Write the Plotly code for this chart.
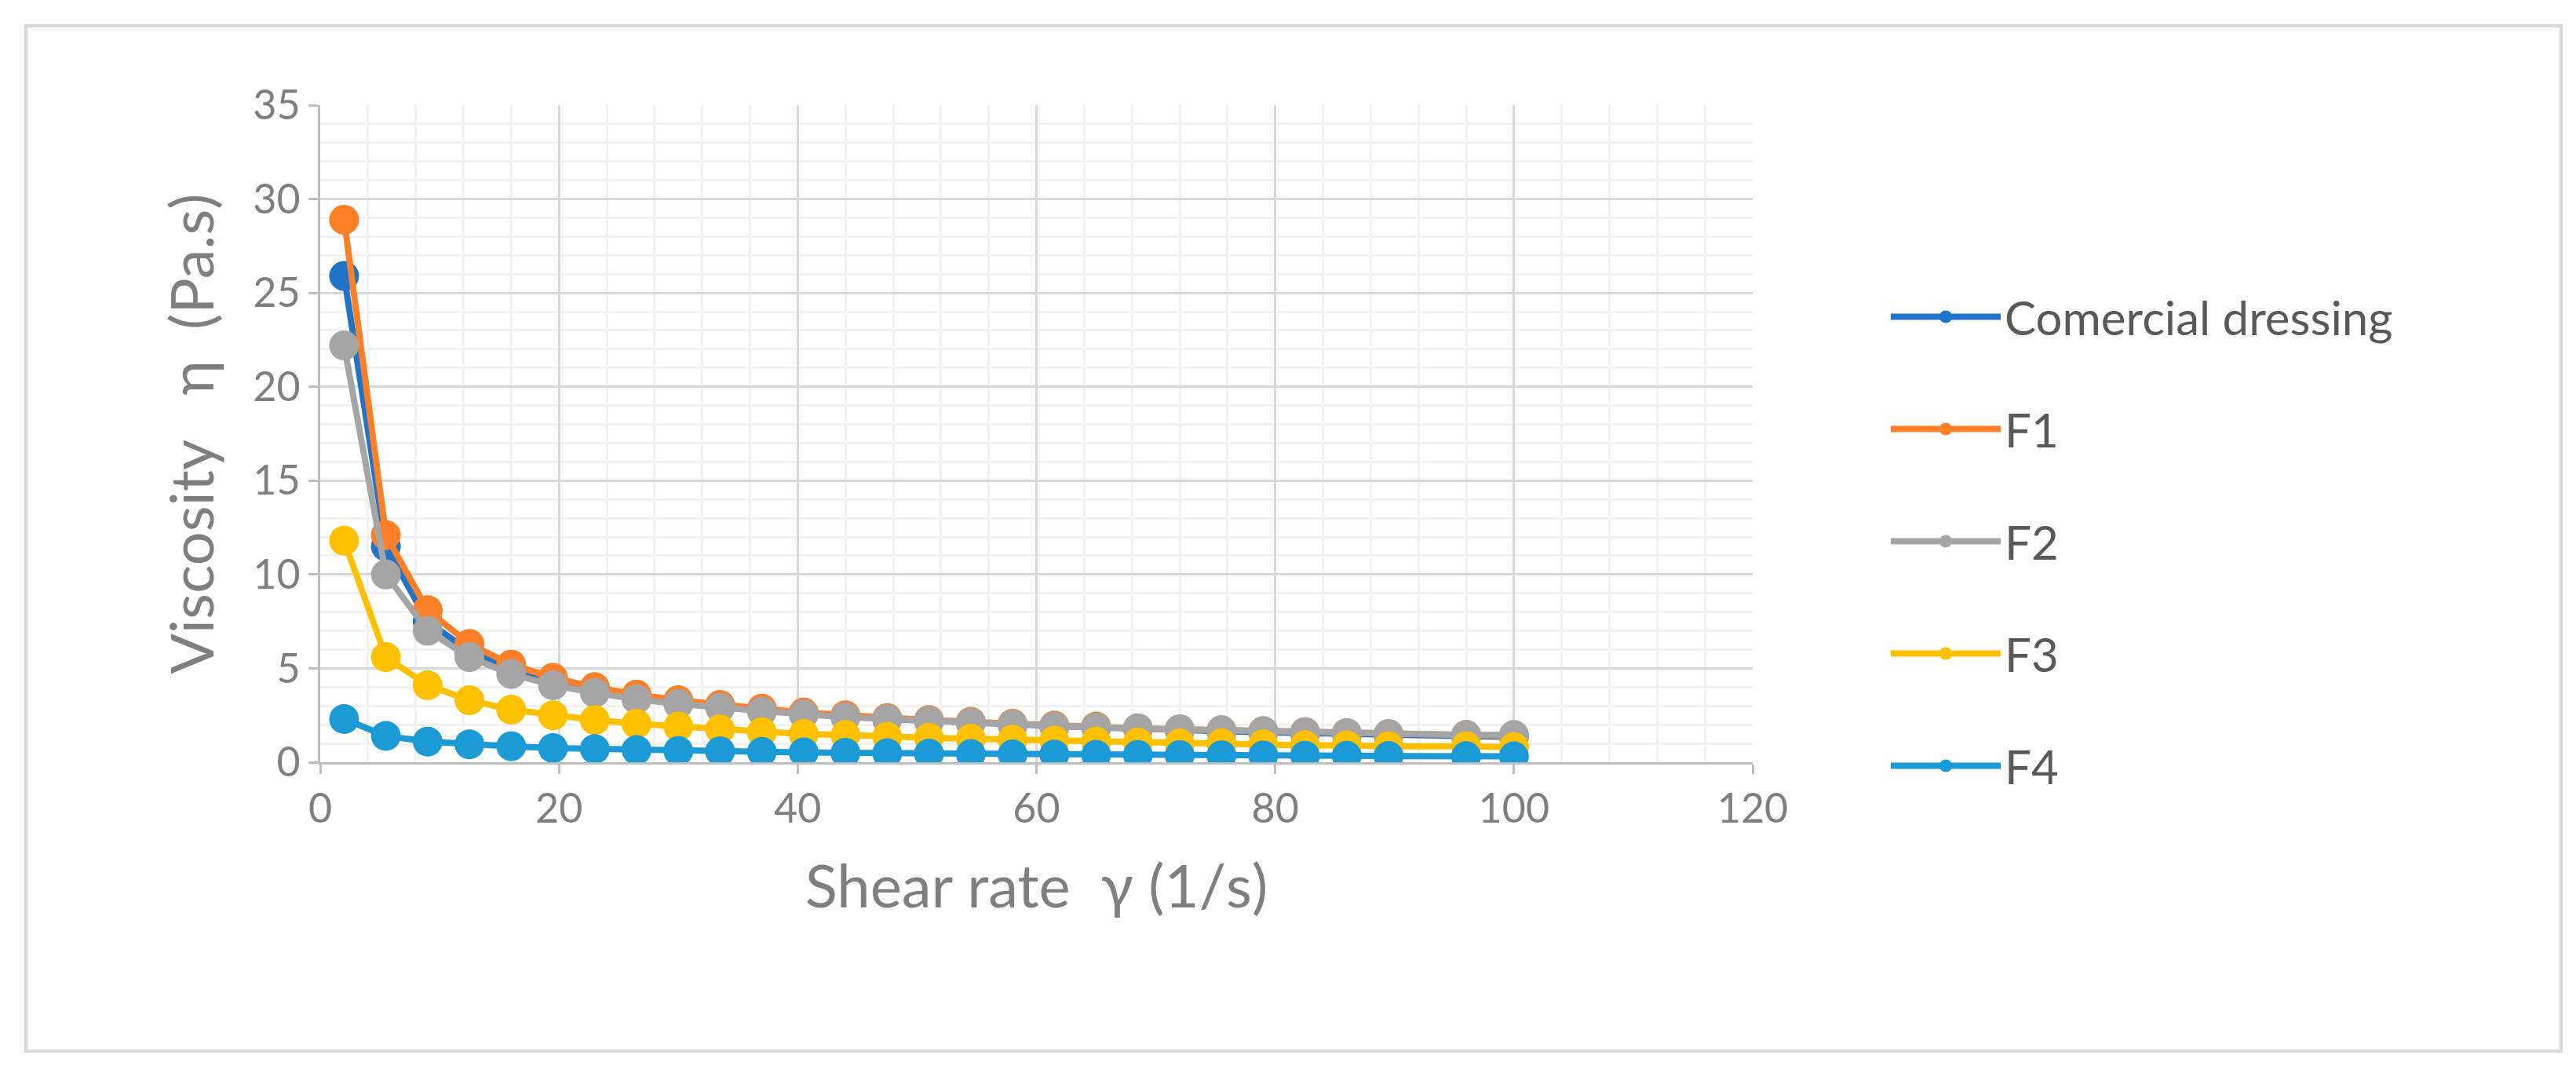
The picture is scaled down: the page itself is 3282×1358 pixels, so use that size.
import plotly.graph_objects as go

shear = [2, 5.5, 9, 12.5, 16, 19.5, 23, 26.5, 30, 33.5, 37, 40.5, 44, 47.5, 51, 54.5, 58, 61.5, 65, 68.5, 72, 75.5, 79, 82.5, 86, 89.5, 96, 100]
comercial = [25.9, 11.5, 7.5, 5.9, 5.0, 4.3, 3.9, 3.5, 3.2, 3.0, 2.8, 2.6, 2.45, 2.3, 2.2, 2.1, 2.0, 1.9, 1.85, 1.8, 1.7, 1.65, 1.6, 1.55, 1.5, 1.45, 1.4, 1.35]
f1 = [28.9, 12.1, 8.1, 6.3, 5.2, 4.5, 4.0, 3.6, 3.3, 3.05, 2.85, 2.65, 2.5, 2.35, 2.25, 2.15, 2.05, 1.95, 1.9, 1.8, 1.75, 1.7, 1.65, 1.6, 1.55, 1.5, 1.45, 1.4]
f2 = [22.2, 10.0, 7.0, 5.6, 4.7, 4.1, 3.7, 3.35, 3.1, 2.9, 2.7, 2.55, 2.4, 2.3, 2.2, 2.1, 2.0, 1.9, 1.85, 1.8, 1.75, 1.7, 1.65, 1.6, 1.55, 1.5, 1.45, 1.45]
f3 = [11.8, 5.6, 4.1, 3.3, 2.8, 2.5, 2.25, 2.05, 1.9, 1.75, 1.6, 1.5, 1.45, 1.35, 1.3, 1.25, 1.2, 1.15, 1.1, 1.05, 1.0, 1.0, 0.95, 0.9, 0.9, 0.85, 0.85, 0.8]
f4 = [2.3, 1.4, 1.1, 0.95, 0.85, 0.75, 0.7, 0.65, 0.6, 0.58, 0.55, 0.52, 0.5, 0.48, 0.46, 0.44, 0.42, 0.41, 0.4, 0.39, 0.38, 0.37, 0.36, 0.35, 0.34, 0.33, 0.32, 0.31]

series = [("Comercial dressing", comercial, "#1f73c8"), ("F1", f1, "#fd7f28"),
          ("F2", f2, "#a5a5a5"), ("F3", f3, "#ffc000"), ("F4", f4, "#1b9ad6")]

fig = go.Figure()
for name, ys, c in series:
    fig.add_trace(go.Scatter(x=shear, y=ys, name=name, legendgroup=name, mode="lines+markers",
                             line=dict(color=c, width=8), marker=dict(color=c, size=38)))

font = "Lato, Liberation Sans, sans-serif"
W, H = 3282, 1358
L, R, T, B = 400, 2225, 126, 963
fig.update_layout(
    width=W, height=H, paper_bgcolor="white", plot_bgcolor="white",
    margin=dict(l=L, r=W - R, t=T, b=H - B),
    font=dict(family=font, color="#7f7f7f"),
    legend=dict(x=(2396 - L) / (R - L), y=(963 - 350) / (B - T), xanchor="left", yanchor="top",
                font=dict(size=60, color="#595959"), tracegroupgap=62, itemwidth=140),
    xaxis=dict(range=[0, 120], dtick=20, tickfont=dict(size=52), showline=True, linecolor="#bfbfbf",
               linewidth=3, gridcolor="#d9d9d9", gridwidth=3, zeroline=False, ticks="outside",
               tickcolor="#bfbfbf", ticklen=12, tickwidth=3,
               minor=dict(dtick=4, showgrid=True, gridcolor="#f2f2f2", gridwidth=3),
               title=dict(text="Shear rate  γ (1/s)", font=dict(size=76), standoff=45)),
    yaxis=dict(range=[0, 35], dtick=5, tickfont=dict(size=52), showline=True, linecolor="#bfbfbf",
               linewidth=3, gridcolor="#d9d9d9", gridwidth=3, zeroline=False, ticks="outside",
               tickcolor="#bfbfbf", ticklen=12, tickwidth=3,
               minor=dict(dtick=1, showgrid=True, gridcolor="#f2f2f2", gridwidth=3),
               title=dict(text="Viscosity   η  (Pa.s)", font=dict(size=76), standoff=25)),
)
fig.add_shape(type="rect", xref="paper", yref="paper",
              x0=(25 - L) / (R - L), x1=(3255 - L) / (R - L),
              y0=(B - 1331) / (B - T), y1=(B - 25) / (B - T),
              line=dict(color="#d9d9d9", width=4), layer="below")
fig.write_html("out.html")
